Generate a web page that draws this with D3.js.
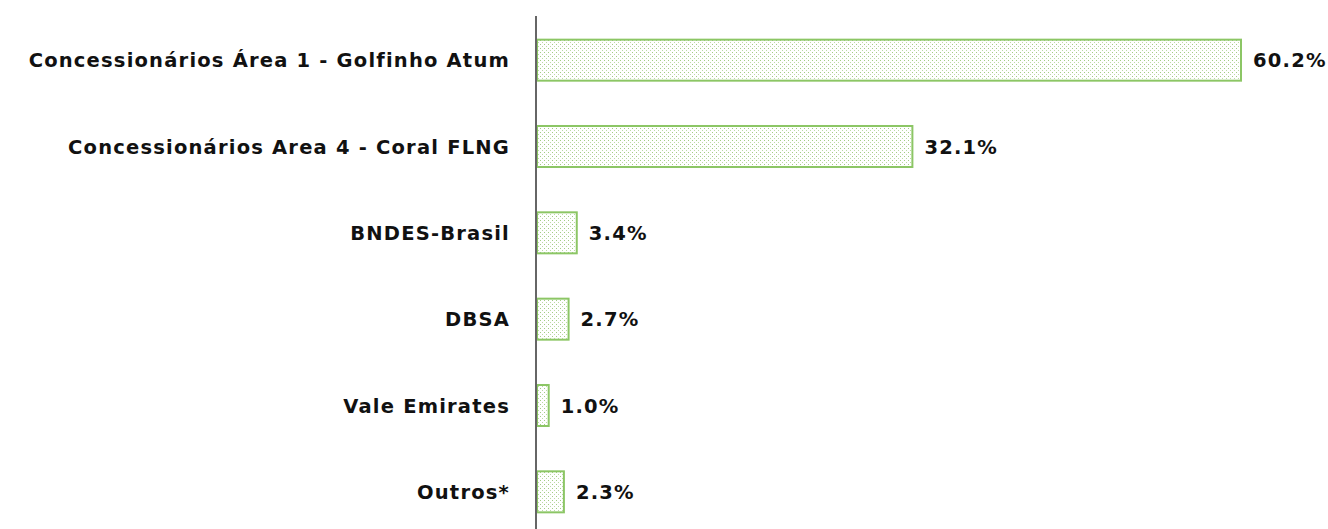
<!DOCTYPE html>
<html>
<head>
<meta charset="utf-8">
<script src="https://cdn.jsdelivr.net/npm/d3@7"></script>
<style>
  body { margin: 0; background: #fff; }
  svg text { font-family: "DejaVu Sans", sans-serif; font-weight: bold; fill: #111; }
</style>
</head>
<body>
<svg id="chart" width="1328" height="529"></svg>
<script>
var categories = [
    "Concessionários Área 1 - Golfinho Atum",
    "Concessionários Area 4 - Coral FLNG",
    "BNDES-Brasil",
    "DBSA",
    "Vale Emirates",
    "Outros*"
];
var shares = [60.2, 32.1, 3.4, 2.7, 1.0, 2.3];
var valueLabels = ["60.2%", "32.1%", "3.4%", "2.7%", "1.0%", "2.3%"];

var axisX = 536;
var fontSize = 19.5;
var data = categories.map(function (c, i) {
    return { name: c, value: shares[i], label: valueLabels[i] };
});

var svg = d3.select("svg#chart");
var defs = svg.append("defs");

var pat = defs.append("pattern")
    .attr("id", "dots")
    .attr("patternUnits", "userSpaceOnUse")
    .attr("width", 4)
    .attr("height", 4);
pat.append("rect").attr("width", 4).attr("height", 4).attr("fill", "#fff");
pat.append("rect").attr("x", 0).attr("y", 0).attr("width", 1).attr("height", 1).attr("fill", "#a3cc84");
pat.append("rect").attr("x", 2).attr("y", 2).attr("width", 1).attr("height", 1).attr("fill", "#bcd9a6");

var x = d3.scaleLinear()
    .domain([0, 60.2])
    .range([axisX + 1, 1241]);

var y = d3.scaleBand()
    .domain(categories)
    .range([17, 535])
    .paddingInner(0.525)
    .paddingOuter(0.2625);

svg.append("g")
    .selectAll("rect")
    .data(data)
    .enter().append("rect")
        .attr("x", x(0))
        .attr("y", d => y(d.name))
        .attr("width", d => x(d.value) - x(0))
        .attr("height", y.bandwidth())
        .attr("fill", "url(#dots)")
        .attr("stroke", "#8cc665")
        .attr("stroke-width", 2);

// category labels
var axis = d3.axisLeft(y).tickSize(0).tickPadding(26);
var gAxis = svg.append("g")
    .attr("transform", `translate(${axisX},0)`)
    .call(axis);
gAxis.select(".domain").remove();
gAxis.selectAll("text")
    .attr("font-family", "DejaVu Sans")
    .attr("font-weight", "bold")
    .attr("font-size", fontSize)
    .attr("letter-spacing", "1.2px")
    .attr("fill", "#111")
    .attr("dy", "0.36em");

svg.append("line")
    .attr("x1", axisX).attr("x2", axisX)
    .attr("y1", 16).attr("y2", 529)
    .attr("stroke", "#666")
    .attr("stroke-width", 2);

svg.append("g")
    .selectAll("text")
    .data(data)
    .enter().append("text")
        .attr("x", d => x(d.value) + 12)
        .attr("y", d => y(d.name) + y.bandwidth() / 2)
        .attr("dy", "0.36em")
        .attr("font-size", fontSize)
        .attr("letter-spacing", "1.2px")
        .text(d => d.label);
</script>
</body>
</html>
